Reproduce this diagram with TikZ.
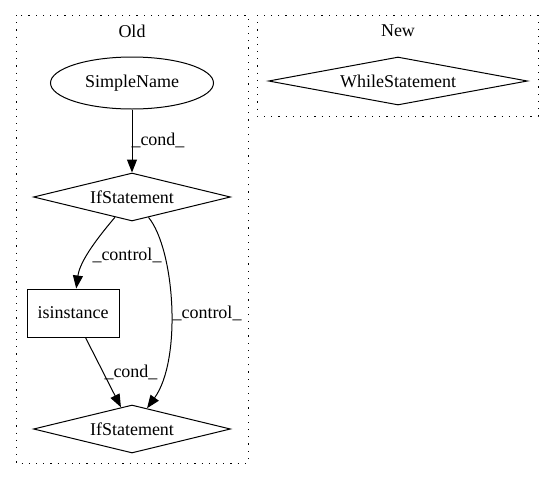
\documentclass[tikz,border=0pt]{standalone}
\usepackage{fontspec}
\setmainfont{Liberation Serif}
\usetikzlibrary{shapes.geometric,arrows.meta}
\begin{document}
\begin{tikzpicture}[x=1pt,y=-1pt,
  every node/.style={font=\fontsize{18}{20}\selectfont},
  cluster/.style={draw, line width=1pt, dash pattern=on 1.2pt off 6pt},
  dia/.style={draw, shape=diamond, aspect=4, inner sep=0pt, minimum width=197pt, minimum height=48pt, line width=1pt},
  ell/.style={draw, ellipse, minimum width=163pt, minimum height=52pt, inner sep=0pt, line width=1pt},
  box/.style={draw, rectangle, minimum width=92pt, minimum height=48pt, inner sep=0pt, line width=1pt},
  edge/.style={draw, line width=1pt, -{Triangle[length=13pt,width=10pt]}},
  lbl/.style={inner sep=0pt}
]
\useasboundingbox (0,0) rectangle (555,480);
\draw[cluster] (16,15) rectangle (248,463);
\draw[cluster] (257,15) rectangle (538,116);
\node[lbl] (oldlbl) at (132,31) {Old};
\node[lbl] (newlbl) at (398,31) {New};

\node[ell] (sn) at (132,83) {SimpleName};
\node[dia] (if1) at (132,197) {IfStatement};
\node[box] (isin) at (73,313) {isinstance};
\node[dia] (if2) at (132,429) {IfStatement};
\node[dia, minimum width=259pt] (ws) at (398,81) {WhileStatement};

\draw[edge] (sn) -- (if1);
\draw[edge] (if1) .. controls (100,235) and (80,260) .. (isin);
\draw[edge] (if1) .. controls (175,250) and (182,360) .. (if2);
\draw[edge] (isin) -- (if2);

\node[lbl] (l1) at (158,140) {\_cond\_};
\node[lbl] (l2) at (127,255) {\_control\_};
\node[lbl] (l3) at (207,313) {\_control\_};
\node[lbl] (l4) at (131,372) {\_cond\_};
\end{tikzpicture}
\end{document}
